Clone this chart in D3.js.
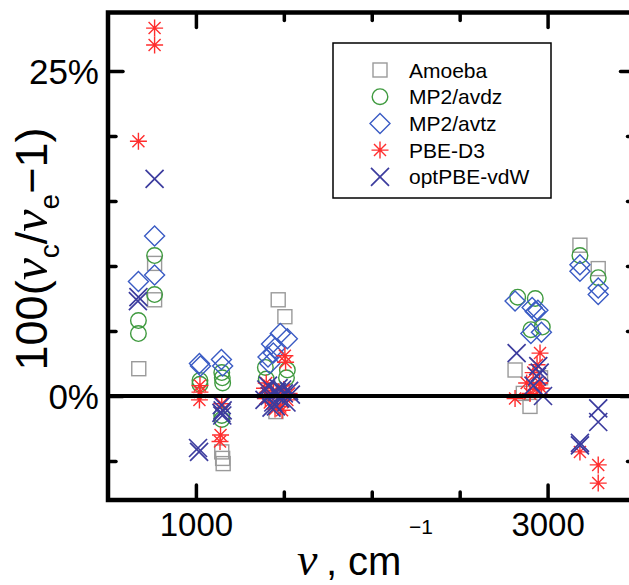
<!DOCTYPE html>
<html>
<head>
<meta charset="utf-8">
<script src="https://cdn.jsdelivr.net/npm/d3@7"></script>
<style>
  html, body { margin: 0; padding: 0; background: #fff; }
  svg { display: block; }
  text { font-family: "Liberation Sans", Arial, sans-serif; fill: #000; }
</style>
</head>
<body>
<svg id="chart" width="629" height="585"></svg>
<script>
// ---------------- data (x: wavenumber cm^-1, y: 100(nu_c/nu_e - 1) in %) ----------------
const seriesNames = ["Amoeba", "MP2/avdz", "MP2/avtz", "PBE-D3", "optPBE-vdW"];
const seriesColors = ["#9a9a9a", "#3f9a3f", "#3a5bc4", "#ff2e2e", "#3c3c9e"];
const seriesSymbols = ["square", "circle", "diamond", "asterisk", "cross"];

const amoeba = [
  [675, 2.1], [765, 10.2], [765, 7.4],
  [1147, -4.3], [1152, -4.8], [1155, -5.2],
  [1468, 7.4], [1506, 6.1], [1455, -1.2], [1470, 0.4],
  [2815, 2.0], [2862, 0.2], [2900, -0.8], [2960, 1.4],
  [3184, 11.6], [3288, 9.8]
];
const mp2avdz = [
  [765, 10.8], [765, 7.8], [673, 5.8], [673, 4.8],
  [1023, 1.2], [1023, 0.9], [1147, 1.8], [1150, 1.4], [1152, 1.0], [1147, -1.5], [1147, -1.8],
  [1395, 2.2], [1400, 1.3], [1520, 2.0], [1515, 1.4],
  [2830, 7.6], [2930, 7.5], [2970, 5.3], [2905, 5.1],
  [3184, 10.8], [3288, 9.1]
];
const mp2avtz = [
  [765, 12.3], [765, 9.3], [673, 8.8],
  [1020, 2.5], [1026, 2.3], [1145, 2.8], [1152, 2.3],
  [1480, 4.8], [1520, 4.4], [1430, 4.0], [1450, 3.7], [1440, 3.3], [1410, 3.0], [1420, 2.5],
  [2815, 7.3], [2912, 6.8], [2930, 6.5], [2945, 6.6], [2905, 4.8], [2965, 4.9],
  [3184, 10.1], [3184, 9.6], [3288, 8.3], [3288, 7.8]
];
const pbeD3 = [
  [765, 28.3], [765, 27.0], [673, 19.6],
  [1023, 0.8], [1023, 0.3], [1020, -0.3], [1147, -0.6], [1140, -3.0], [1137, -3.5],
  [1506, 3.1], [1510, 2.6], [1400, 1.0], [1410, 0.3], [1420, -0.5], [1450, -1.0], [1480, -0.8],
  [1500, 0.5], [1520, -0.3], [1460, 0.0], [1395, -0.2], [1390, 0.6], [1440, 0.4], [1490, -1.1], [1530, 0.2],
  [2815, -0.2], [2957, 3.3], [2940, 2.4], [2918, 1.8], [2955, 1.0], [2881, 1.0], [2900, 0.2], [2935, 0.5], [2965, 0.6],
  [3184, -4.3], [3288, -5.3], [3288, -6.7]
];
const optPBEvdW = [
  [765, 16.7], [673, 7.6], [670, 7.3],
  [1012, -4.0], [1018, -4.3], [1147, -0.7], [1152, -1.1], [1150, -1.5], [1145, -1.3],
  [1400, 0.5], [1420, 0.0], [1440, -0.5], [1460, 0.3], [1480, -0.2], [1500, 0.2], [1540, 0.1],
  [1410, 0.8], [1430, -0.9], [1470, 0.6], [1390, -0.3], [1455, -0.8], [1490, 0.5], [1515, -0.5], [1530, 0.4],
  [2824, 3.3], [2947, 2.3], [2940, 1.5], [2920, 0.8], [2974, 0.0], [2955, 1.8],
  [3288, -0.95], [3288, -2.0], [3184, -3.8], [3184, -3.6]
];
const seriesData = [amoeba, mp2avdz, mp2avtz, pbeD3, optPBEvdW];

const xDomain = [500, 3500];
const yDomain = [-8, 29.5];
const xMajorTicks = [1000, 3000];
const xMinorTicks = [1500, 2000, 2500];
const yMajorTicks = [0, 25];
const yMinorTicks = [-5, 5, 10, 15, 20];
const yTickLabels = {0: "0%", 25: "25%"};

// ---------------- layout ----------------
const svg = d3.select("#chart");
const mLeft = 108, mRight = 635.5, mTop = 12.5, mBottom = 500;
const x = d3.scaleLinear().domain(xDomain).range([mLeft, mRight]);
const y = d3.scaleLinear().domain(yDomain).range([mBottom, mTop]);

// ---------------- symbols ----------------
function drawSymbol(g, type, color) {
  const sw = 1.4;
  if (type === "square") {
    g.append("rect").attr("x", -7).attr("y", -7).attr("width", 14).attr("height", 14)
      .attr("fill", "none").attr("stroke", color).attr("stroke-width", sw);
  } else if (type === "circle") {
    g.append("circle").attr("r", 7.8).attr("fill", "none").attr("stroke", color).attr("stroke-width", sw);
  } else if (type === "diamond") {
    g.append("path").attr("d", "M0,-10L10,0L0,10L-10,0Z")
      .attr("fill", "none").attr("stroke", color).attr("stroke-width", sw);
  } else if (type === "asterisk") {
    const r = 8.5, d = r * Math.SQRT1_2;
    g.append("path").attr("d", `M0,${-r}V${r}M${-r},0H${r}M${-d},${-d}L${d},${d}M${-d},${d}L${d},${-d}`)
      .attr("fill", "none").attr("stroke", color).attr("stroke-width", sw);
  } else if (type === "cross") {
    const r = 9;
    g.append("path").attr("d", `M${-r},${-r}L${r},${r}M${-r},${r}L${r},${-r}`)
      .attr("fill", "none").attr("stroke", color).attr("stroke-width", 1.7);
  }
}

// ---------------- data points ----------------
const pts = svg.append("g");
seriesData.forEach((data, i) => {
  pts.append("g").selectAll("g").data(data).join("g")
    .attr("transform", d => `translate(${x(d[0])},${y(d[1])})`)
    .each(function () { drawSymbol(d3.select(this), seriesSymbols[i], seriesColors[i]); });
});

// ---------------- zero line ----------------
svg.append("line")
  .attr("x1", x(xDomain[0])).attr("x2", x(xDomain[1]))
  .attr("y1", y(0)).attr("y2", y(0))
  .attr("stroke", "#000").attr("stroke-width", 4);

// ---------------- axes ----------------
function styleAxis(g) {
  g.select(".domain").remove();
  g.selectAll(".tick line").attr("stroke", "#000").attr("stroke-width", 3.5).attr("stroke-linecap", "round");
  g.selectAll(".tick text").style("font-family", "'Liberation Sans', Arial, sans-serif").attr("fill", "#000");
}
// bottom
svg.append("g").attr("transform", `translate(0,${mBottom})`)
  .call(d3.axisBottom(x).tickValues(xMajorTicks).tickSizeInner(-15).tickSizeOuter(0).tickFormat(d3.format("d")))
  .call(styleAxis)
  .call(g => g.selectAll(".tick text").style("font-size", "33px").attr("y", 13).attr("dy", "0.71em"));
svg.append("g").attr("transform", `translate(0,${mBottom})`)
  .call(d3.axisBottom(x).tickValues(xMinorTicks).tickSizeInner(-8).tickSizeOuter(0).tickFormat(""))
  .call(styleAxis);
// top
svg.append("g").attr("transform", `translate(0,${mTop})`)
  .call(d3.axisTop(x).tickValues(xMajorTicks).tickSizeInner(-15).tickSizeOuter(0).tickFormat(""))
  .call(styleAxis);
svg.append("g").attr("transform", `translate(0,${mTop})`)
  .call(d3.axisTop(x).tickValues(xMinorTicks).tickSizeInner(-8).tickSizeOuter(0).tickFormat(""))
  .call(styleAxis);
// left
svg.append("g").attr("transform", `translate(${mLeft},0)`)
  .call(d3.axisLeft(y).tickValues(yMajorTicks).tickSizeInner(-15).tickSizeOuter(0).tickFormat(d => yTickLabels[d]))
  .call(styleAxis)
  .call(g => g.selectAll(".tick text").style("font-size", "35px").attr("x", -9).attr("dy", "0.36em"));
svg.append("g").attr("transform", `translate(${mLeft},0)`)
  .call(d3.axisLeft(y).tickValues(yMinorTicks).tickSizeInner(-8).tickSizeOuter(0).tickFormat(""))
  .call(styleAxis);
// right
svg.append("g").attr("transform", `translate(${mRight},0)`)
  .call(d3.axisRight(y).tickValues(yMajorTicks).tickSizeInner(-15).tickSizeOuter(0).tickFormat(""))
  .call(styleAxis);
svg.append("g").attr("transform", `translate(${mRight},0)`)
  .call(d3.axisRight(y).tickValues(yMinorTicks).tickSizeInner(-8).tickSizeOuter(0).tickFormat(""))
  .call(styleAxis);

// frame
svg.append("rect").attr("x", mLeft).attr("y", mTop).attr("width", mRight - mLeft).attr("height", mBottom - mTop)
  .attr("fill", "none").attr("stroke", "#000").attr("stroke-width", 4.5);

// ---------------- legend ----------------
const leg = svg.append("g");
leg.append("rect").attr("x", 333).attr("y", 43).attr("width", 218).attr("height", 155)
  .attr("fill", "#fff").attr("stroke", "#000").attr("stroke-width", 1.5);
seriesNames.forEach((name, i) => {
  const yy = 70 + i * 26.7;
  const g = leg.append("g").attr("transform", `translate(380,${yy})`);
  drawSymbol(g, seriesSymbols[i], seriesColors[i]);
  leg.append("text").attr("x", 409).attr("y", yy).attr("dy", "0.36em")
    .style("font-size", "21px").text(name);
});

// ---------------- axis titles ----------------
const serif = "'Liberation Serif', 'Times New Roman', serif";
const yt = svg.append("text")
  .attr("transform", "translate(47,249) rotate(-90)")
  .attr("text-anchor", "middle")
  .style("font-size", "45px");
yt.append("tspan").text("100(");
yt.append("tspan").style("font-family", serif).style("font-style", "italic").style("font-size", "50px").text("ν");
yt.append("tspan").style("font-size", "28px").attr("dy", "12").text("c");
yt.append("tspan").attr("dy", "-12").text("/");
yt.append("tspan").style("font-family", serif).style("font-style", "italic").style("font-size", "50px").text("ν");
yt.append("tspan").style("font-size", "28px").attr("dy", "12").text("e");
yt.append("tspan").attr("dy", "-12").text("\u2212");
yt.append("tspan").text("1)");

const xt = svg.append("text").attr("y", 575).style("font-size", "40px");
xt.append("tspan").attr("x", 297).style("font-family", serif).style("font-style", "italic").style("font-size", "46px").text("ν");
xt.append("tspan").attr("x", 326).text(",");
xt.append("tspan").attr("x", 348).text("cm");
xt.append("tspan").attr("x", 409).attr("y", 534).style("font-size", "21px").text("\u22121");
</script>
</body>
</html>
